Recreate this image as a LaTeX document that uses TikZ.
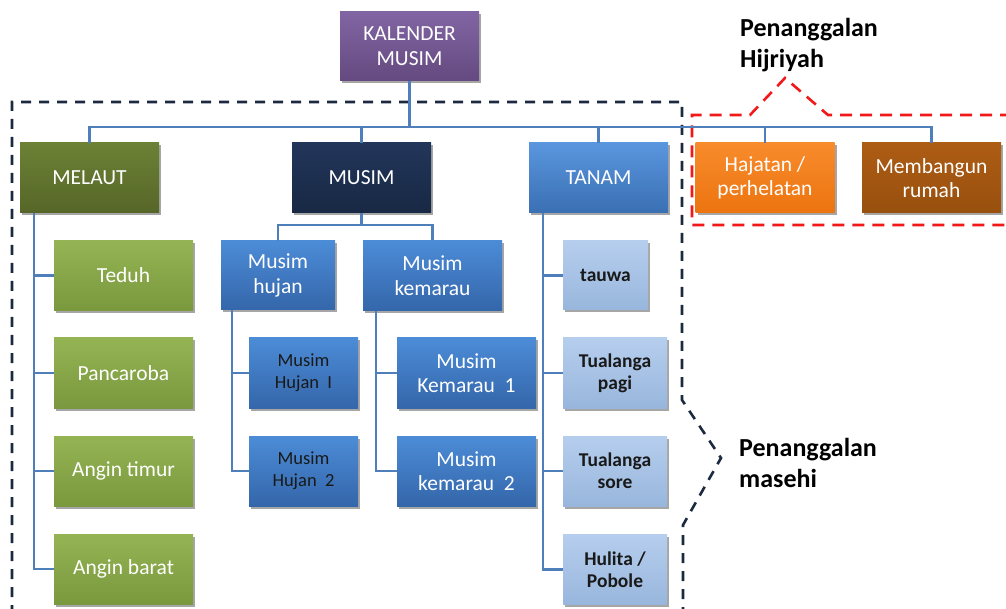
\documentclass[tikz,border=0pt]{standalone}
\usepackage{fontspec}
\setmainfont{Carlito}
\usetikzlibrary{shadows}
\definecolor{kalT}{HTML}{8165A3}
\definecolor{kalB}{HTML}{644A80}
\definecolor{melT}{HTML}{6C8135}
\definecolor{melB}{HTML}{566628}
\definecolor{musT}{HTML}{22365A}
\definecolor{musB}{HTML}{182844}
\definecolor{tanT}{HTML}{5A96DE}
\definecolor{tanB}{HTML}{3A6FB3}
\definecolor{hajT}{HTML}{F88B2C}
\definecolor{hajB}{HTML}{EC740F}
\definecolor{bgnT}{HTML}{AD5C14}
\definecolor{bgnB}{HTML}{98500E}
\definecolor{grnT}{HTML}{94B454}
\definecolor{grnB}{HTML}{7A983D}
\definecolor{bluT}{HTML}{4C8CD7}
\definecolor{bluB}{HTML}{3466AA}
\definecolor{lbT}{HTML}{B6CEEE}
\definecolor{lbB}{HTML}{98B6DC}
\definecolor{connc}{HTML}{4F7FBA}
\definecolor{darkdash}{HTML}{1C2A40}
\definecolor{reddash}{HTML}{F01818}
\begin{document}
\begin{tikzpicture}[x=1pt,y=-1pt,
  box/.style={inner sep=2pt, align=center, text=white,
    font=\fontsize{21.5}{24.5}\selectfont,
    drop shadow={shadow xshift=2pt,shadow yshift=-2.5pt,opacity=0.35,fill=black}},
  grad/.style 2 args={top color=#1, bottom color=#2},
  wide/.style={minimum width=139, minimum height=70},
  darktext/.style={text=black!90},
  boldsmall/.style={text=black!90, font=\bfseries\fontsize{19.5}{22}\selectfont},
  conn/.style={draw=connc, line width=2.2pt},
  dashd/.style={draw=darkdash, line width=2.6pt, dash pattern=on 10pt off 8pt},
  dashr/.style={draw=reddash, line width=2.6pt, dash pattern=on 12pt off 8pt},
  lbl/.style={anchor=north west, align=left, inner sep=0pt, font=\bfseries\fontsize{26}{31}\selectfont}
]
\useasboundingbox (0,0) rectangle (1006,609);
\fill[white] (0,0) rectangle (1006,609);

% dashed outlines
\draw[dashd] (12,615) -- (12,102) -- (682,102) -- (682,400) -- (721,458) -- (683,525) -- (683,615);
\draw[dashr] (1012,115) -- (828,115) -- (785,78) -- (750,115) -- (692,115) -- (692,225) -- (1012,225);

% top level
\node[box, grad={kalT}{kalB}, minimum width=139, minimum height=69] (kal) at (409.5,46) {KALENDER\\MUSIM};
\node[box, wide, grad={melT}{melB}] (melaut) at (89.5,178) {MELAUT};
\node[box, wide, grad={musT}{musB}] (musim) at (361.5,178) {MUSIM};
\node[box, wide, grad={tanT}{tanB}] (tanam) at (598.5,178) {TANAM};
\node[box, wide, grad={hajT}{hajB}] (hajat) at (765,178) {Hajatan /\\perhelatan};
\node[box, wide, grad={bgnT}{bgnB}] (bangun) at (931.5,178) {Membangun\\rumah};

% MELAUT children
\node[box, wide, grad={grnT}{grnB}] (teduh) at (123.5,275.5) {Teduh};
\node[box, wide, grad={grnT}{grnB}] (panca) at (123.5,373) {Pancaroba};
\node[box, wide, grad={grnT}{grnB}] (timur) at (123.5,471) {Angin timur};
\node[box, wide, grad={grnT}{grnB}] (barat) at (123.5,569) {Angin barat};

% MUSIM children
\node[box, grad={bluT}{bluB}, minimum width=114, minimum height=69] (mhujan) at (278,275.5) {Musim\\hujan};
\node[box, wide, grad={bluT}{bluB}] (mkem) at (432.5,275.5) {Musim\\kemarau};
\node[box, darktext, grad={bluT}{bluB}, minimum width=109, minimum height=70, font=\fontsize{18.5}{22}\selectfont] (mh1) at (303.5,373) {Musim\\Hujan~ I};
\node[box, darktext, grad={bluT}{bluB}, minimum width=109, minimum height=70, font=\fontsize{18.5}{22}\selectfont] (mh2) at (303.5,471) {Musim\\Hujan~ 2};
\node[box, wide, grad={bluT}{bluB}] (mk1) at (466.5,373) {Musim\\Kemarau~ 1};
\node[box, wide, grad={bluT}{bluB}] (mk2) at (466.5,471) {Musim\\kemarau~ 2};

% TANAM children
\node[box, boldsmall, grad={lbT}{lbB}, minimum width=85, minimum height=69] (tauwa) at (605.5,275.5) {tauwa};
\node[box, boldsmall, grad={lbT}{lbB}, minimum width=104, minimum height=70] (tpagi) at (615,373) {Tualanga\\pagi};
\node[box, boldsmall, grad={lbT}{lbB}, minimum width=104, minimum height=70] (tsore) at (615,471) {Tualanga\\sore};
\node[box, boldsmall, grad={lbT}{lbB}, minimum width=104, minimum height=70] (hulita) at (615,569.5) {Hulita /\\Pobole};

% connectors
\coordinate (bus) at (409.5,127);
\draw[conn] (kal.south) -- (bus);
\foreach \n in {melaut,musim,tanam,hajat,bangun} \draw[conn] (\n.north) |- (bus);

\foreach \n in {teduh,panca,timur,barat} \draw[conn] ([xshift=14pt]melaut.south west) |- (\n.west);

\coordinate (mbus) at (361.5,225);
\draw[conn] (musim.south) -- (mbus);
\draw[conn] (mhujan.north) |- (mbus);
\draw[conn] (mkem.north) |- (mbus);
\foreach \n in {mh1,mh2} \draw[conn] ([xshift=11pt]mhujan.south west) |- (\n.west);
\foreach \n in {mk1,mk2} \draw[conn] ([xshift=13pt]mkem.south west) |- (\n.west);
\foreach \n in {tauwa,tpagi,tsore,hulita} \draw[conn] ([xshift=14pt]tanam.south west) |- (\n.west);

% labels
\node[lbl] (hij) at (740,18) {Penanggalan\\Hijriyah};
\node[lbl] (mas) at (739,438) {Penanggalan\\masehi};
\end{tikzpicture}
\end{document}
